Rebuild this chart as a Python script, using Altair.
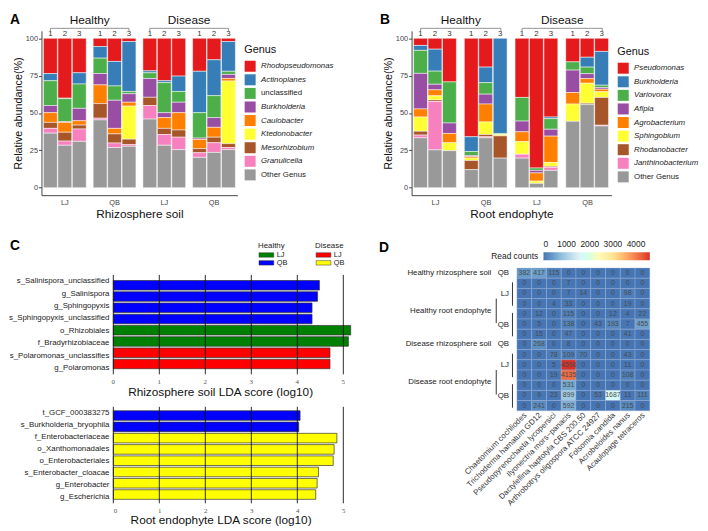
import altair as alt
import pandas as pd

FONT = "Liberation Sans"
SERIF = "Liberation Serif"

GROUPS = ["H-LJ", "H-QB", "D-LJ", "D-QB"]
REPS = ["1", "2", "3"]
SAMPLE_GROUP = [g for g in GROUPS for _ in REPS]
SAMPLE_REP = REPS * 4
STATUS = ["Healthy", "Disease"]
SET1 = ["#E41A1C", "#377EB8", "#4DAF4A", "#984EA3", "#FF7F00", "#FFFF33", "#A65628", "#F781BF", "#999999"]

# ---------------- Panel A : rhizosphere soil genera (% per sample) ----------------
A_GENERA = ["Rhodopseudomonas", "Actinoplanes", "unclassified", "Burkholderia", "Caulobacter",
            "Ktedonobacter", "Mesorhizobium", "Granulicella", "Other Genus"]
A_RHODOPSEUDOMONAS = [23.6, 40.1, 23.1, 5.5, 15.5, 2.2, 21.8, 28.4, 25.3, 22.1, 14.4, 2.2]
A_ACTINOPLANES = [4.8, 0.3, 7.5, 7.8, 16.4, 33.4, 1.3, 1.3, 10.3, 27.7, 24.0, 19.9]
A_UNCLASSIFIED = [16.6, 15.4, 16.3, 10.3, 9.6, 1.5, 3.8, 20.1, 7.2, 17.0, 14.7, 2.1]
A_BURKHOLDERIA = [4.8, 0.5, 8.3, 7.6, 18.8, 5.7, 12.6, 3.3, 7.0, 0.9, 6.5, 2.7]
A_CAULOBACTER = [6.5, 6.6, 2.9, 12.5, 3.7, 2.6, 0.0, 7.2, 11.6, 6.1, 6.6, 1.7]
A_KTEDONOBACTER = [0.0, 0.0, 0.0, 0.0, 0.0, 22.1, 0.0, 0.0, 0.0, 0.0, 0.0, 41.9]
A_MESORHIZOBIUM = [4.0, 5.9, 2.6, 9.8, 6.1, 3.7, 5.5, 4.1, 4.8, 2.8, 3.7, 2.6]
A_GRANULICELLA = [3.2, 2.8, 8.3, 1.1, 3.0, 1.1, 9.1, 7.2, 8.3, 3.1, 6.5, 1.4]
A_OTHER = [36.5, 28.4, 31.0, 45.4, 26.9, 27.7, 45.9, 28.4, 25.5, 20.3, 23.6, 25.5]
A_VALUES = [A_RHODOPSEUDOMONAS, A_ACTINOPLANES, A_UNCLASSIFIED, A_BURKHOLDERIA, A_CAULOBACTER,
            A_KTEDONOBACTER, A_MESORHIZOBIUM, A_GRANULICELLA, A_OTHER]

# ---------------- Panel B : root endophyte genera (% per sample) ----------------
B_GENERA = ["Pseudomonas", "Burkholderia", "Variovorax", "Afipia", "Agrobacterium",
            "Sphingobium", "Rhodanobacter", "Janthinobacterium", "Other Genus"]
B_PSEUDOMONAS = [4.8, 7.3, 29.2, 65.9, 19.3, 0.0, 39.6, 86.8, 52.7, 15.8, 12.7, 8.8]
B_BURKHOLDERIA = [3.3, 14.7, 0.0, 9.9, 10.4, 63.7, 0.0, 0.0, 1.1, 0.0, 6.6, 22.6]
B_VARIOVORAX = [15.4, 8.8, 27.5, 2.7, 7.7, 0.7, 15.8, 1.6, 7.1, 5.5, 4.4, 1.6]
B_AFIPIA = [23.8, 3.7, 7.0, 0.7, 6.6, 0.0, 7.2, 1.7, 4.6, 15.0, 3.3, 1.1]
B_AGROBACTERIUM = [5.4, 4.0, 6.2, 1.0, 12.0, 0.0, 6.6, 5.5, 17.6, 7.7, 3.1, 1.7]
B_SPHINGOBIUM = [9.5, 2.8, 5.3, 1.6, 8.4, 0.9, 8.4, 1.5, 2.6, 11.6, 13.4, 3.8]
B_RHODANOBACTER = [2.6, 1.1, 0.0, 6.1, 1.5, 14.9, 0.0, 0.0, 0.7, 0.0, 0.9, 18.6]
B_JANTHINOBACTERIUM = [1.8, 32.3, 0.0, 0.0, 0.7, 0.0, 2.6, 0.0, 2.0, 0.0, 0.0, 0.5]
B_OTHER = [33.4, 25.3, 24.8, 12.1, 33.4, 19.8, 19.8, 2.9, 11.6, 44.4, 55.6, 41.3]
B_VALUES = [B_PSEUDOMONAS, B_BURKHOLDERIA, B_VARIOVORAX, B_AFIPIA, B_AGROBACTERIUM,
            B_SPHINGOBIUM, B_RHODANOBACTER, B_JANTHINOBACTERIUM, B_OTHER]

# ---------------- Panel C : LEfSe LDA scores ----------------
GRP_KEYS = ["H-LJ", "H-QB", "D-LJ", "D-QB"]
GRP_COLORS = ["#008000", "#0000FF", "#FF0000", "#FFFF00"]
C_TICKS = [0, 1, 2, 3, 4, 5]
C1_TAXA = ["s_Salinispora_unclassified", "g_Salinispora", "g_Sphingopyxis", "s_Sphingopyxis_unclassified",
           "o_Rhizobiales", "f_Bradyrhizobiaceae", "s_Polaromonas_unclassifies", "g_Polaromonas"]
C1_LDA = [4.48, 4.44, 4.32, 4.32, 5.16, 5.11, 4.71, 4.71]
C1_GRP = ["H-QB", "H-QB", "H-QB", "H-QB", "H-LJ", "H-LJ", "D-LJ", "D-LJ"]
C2_TAXA = ["t_GCF_000383275", "s_Burkholderia_bryophila", "f_Enterobacteriaceae", "o_Xanthomonadales",
           "o_Enterobacteriales", "s_Enterobacter_cloacae", "g_Enterobacter", "g_Escherichia"]
C2_LDA = [4.06, 4.03, 4.86, 4.80, 4.78, 4.46, 4.43, 4.40]
C2_GRP = ["H-QB", "H-QB", "D-QB", "D-QB", "D-QB", "D-QB", "D-QB", "D-QB"]
C1_TITLE = "Rhizosphere soil LDA score (log10)"
C2_TITLE = "Root endophyte LDA score (log10)"

# ---------------- Panel D : read counts heatmap ----------------
SPECIES = ["Chaetomium cochliodes", "Trichoderma hamatum GD12", "Pseudopyrenochaeta lycopersici",
           "Ilyonectria mors\u2212panacis", "Dactylellina haptotyla CBS 200.50",
           "Arthrobotrys oligospora ATCC 24927", "Folsomia candida", "Acrobeloides nanus",
           "Acaulopage tetraceros"]
HEAT_ROWS = [
    [382, 417, 115, 0, 0, 0, 0, 0, 0],
    [0, 0, 0, 7, 0, 0, 0, 0, 0],
    [0, 0, 0, 7, 14, 0, 0, 98, 0],
    [0, 0, 4, 33, 0, 0, 0, 19, 0],
    [0, 12, 0, 115, 0, 0, 12, 4, 22],
    [0, 5, 0, 138, 0, 43, 193, 7, 455],
    [0, 15, 0, 47, 0, 0, 0, 41, 0],
    [0, 268, 0, 8, 0, 0, 0, 0, 0],
    [0, 0, 78, 109, 70, 0, 0, 43, 0],
    [0, 0, 5, 4596, 0, 0, 0, 11, 0],
    [0, 0, 19, 4135, 0, 0, 0, 108, 0],
    [0, 0, 0, 531, 0, 0, 0, 0, 0],
    [0, 9, 23, 899, 0, 53, 1687, 11, 111],
    [0, 241, 0, 592, 0, 0, 0, 215, 0],
]
MAIN_LABELS = ["Healthy rhizosphere soil", "Healthy root endophyte", "Disease rhizosphere soil", "Disease root endophyte"]
MAIN_FIRST = [1, 2, 8, 9]
MAIN_LAST = [1, 7, 8, 14]
SUB_LABELS = ["QB", "LJ", "QB", "QB", "LJ", "QB"]
SUB_FIRST = [1, 2, 5, 8, 9, 12]
SUB_LAST = [1, 4, 7, 8, 11, 14]
HEAT_COLORS = ["#4575B4", "#91BFDB", "#E0F3F8", "#FFFFBF", "#FEE090", "#FC8D59", "#D73027"]
LEGEND_TICKS = [0, 1000, 2000, 3000, 4000]


def band_layout(W, n, pi, po):
    step = W / (n - pi + 2 * po)
    start = (W - step * (n - pi)) / 2
    return start, step, step * (1 - pi)


def letter_layer(letter, x, y):
    return alt.Chart(pd.DataFrame({"t": [letter]})).mark_text(
        fontSize=14, fontWeight="bold", align="left", baseline="top", color="#000"
    ).encode(text="t:N", x=alt.value(x), y=alt.value(y))


def stacked_panel(letter, genera, values, xtitle, W, H, legend_x, legend_y):
    rows = []
    n = len(genera)
    for k, (g, vals) in enumerate(zip(genera, values)):
        for s, v in enumerate(vals):
            if v > 0:
                rows.append({"genus": g, "group": SAMPLE_GROUP[s], "rep": SAMPLE_REP[s],
                             "value": v, "ord": n - 1 - k})
    df = pd.DataFrame(rows)
    PI, PO, PI2 = 0.14, 0.04, 0.04
    xscale = alt.Scale(domain=GROUPS, paddingInner=PI, paddingOuter=PO)
    oscale = alt.Scale(domain=REPS, paddingInner=PI2, paddingOuter=0)
    xaxis = alt.Axis(title=xtitle, titleFontSize=12, titleFontWeight="normal", titleColor="#111",
                     titlePadding=3, labelExpr="split(datum.value, '-')[1]", labelAngle=0,
                     labelFontSize=7.5, labelColor="#444", labelPadding=3, ticks=False,
                     domainColor="#444")
    ysc = alt.Scale(domain=[-5, 105], nice=False, zero=False)
    italic = {"expr": "indexof(['unclassified', 'Other Genus'], datum.label) >= 0 ? 'normal' : 'italic'"}
    bars = alt.Chart(df).mark_bar(stroke="white", strokeWidth=0.5).encode(
        x=alt.X("group:N", sort=GROUPS, scale=xscale, axis=xaxis),
        xOffset=alt.XOffset("rep:N", sort=REPS, scale=oscale),
        y=alt.Y("value:Q", stack="zero", scale=ysc,
                axis=alt.Axis(values=[0, 25, 50, 75, 100], title="Relative abundance(%)", titleFontSize=11,
                              titleFontWeight="normal", titleColor="#111", titlePadding=2,
                              labelFontSize=7.5, labelColor="#444", labelPadding=1, tickSize=3,
                              tickColor="#444", domainColor="#444", grid=False)),
        color=alt.Color("genus:N", scale=alt.Scale(domain=genera, range=SET1),
                        legend=alt.Legend(title="Genus", orient="none", legendX=legend_x, legendY=legend_y,
                                          titleFontSize=11, titleFontWeight="normal", titleColor="#111",
                                          titlePadding=5, labelFontSize=8, labelColor="#222",
                                          labelFontStyle=italic, symbolType="square", symbolSize=125,
                                          symbolStrokeWidth=0, symbolOpacity=1, rowPadding=1.8,
                                          labelOffset=5)),
        order=alt.Order("ord:Q", sort="ascending"),
    )
    nums = alt.Chart(pd.DataFrame({"group": SAMPLE_GROUP, "rep": SAMPLE_REP})).mark_text(
        fontSize=8, color="#333", baseline="middle").encode(
        x=alt.X("group:N", sort=GROUPS, scale=xscale, axis=xaxis),
        xOffset=alt.XOffset("rep:N", sort=REPS, scale=oscale),
        y=alt.value(3), text="rep:N")
    start, step, bw = band_layout(W, 4, PI, PO)
    s2, st2, bw2 = band_layout(bw, 3, PI2, 0.0)

    def cx(i, j):
        return float(start + step * i + s2 + st2 * j + bw2 / 2)

    layers = [bars, nums]
    BR_Y, HEAD_Y = -2.5, -10.5
    for k, status in enumerate(STATUS):
        x1, x2 = cx(2 * k, 0), cx(2 * k + 1, 2)
        c = alt.Chart(pd.DataFrame({"status": [status]}))
        layers += [
            c.mark_rule(color="#777", strokeWidth=0.8).encode(x=alt.value(x1), x2=alt.value(x2), y=alt.value(BR_Y)),
            c.mark_rule(color="#777", strokeWidth=0.8).encode(x=alt.value(x1), y=alt.value(BR_Y), y2=alt.value(BR_Y + 3)),
            c.mark_rule(color="#777", strokeWidth=0.8).encode(x=alt.value(x2), y=alt.value(BR_Y), y2=alt.value(BR_Y + 3)),
            c.mark_text(fontSize=12, color="#111", baseline="middle").encode(
                x=alt.value((x1 + x2) / 2), y=alt.value(HEAD_Y), text="status:N"),
        ]
    layers.append(letter_layer(letter, -32, -18))
    return alt.layer(*layers).properties(width=W, height=H)


def lda_panel():
    # one frame (x 40..356, y 267..506) holding both LDA bar charts
    W, H = 316, 239
    xsc = alt.Scale(domain=[0, 5.2], range=[73, 316], nice=False, zero=True)
    xaxis = alt.Axis(values=C_TICKS, grid=False, ticks=False, domain=False, labelFont=SERIF,
                     labelFontSize=7, labelColor="#555", labelPadding=3, title=C2_TITLE,
                     titleFontSize=12, titleFontWeight="normal", titleColor="#111", titlePadding=2,
                     titleX=182, titleAnchor="middle")
    csc = alt.Scale(domain=GRP_KEYS, range=GRP_COLORS)
    layers = []
    sections = [(C1_TAXA, C1_LDA, C1_GRP, [7, 108], 0.5), (C2_TAXA, C2_LDA, C2_GRP, [141, 239], 0.35)]
    for taxa, lda, grp, yr, po in sections:
        df = pd.DataFrame({"taxon": taxa, "lda": lda, "grp": grp})
        ysc = alt.Scale(domain=taxa, range=yr, paddingInner=0.15, paddingOuter=po)
        layers.append(alt.Chart(df).mark_bar(stroke="#333", strokeWidth=0.7).encode(
            x=alt.X("lda:Q", scale=xsc, axis=xaxis),
            y=alt.Y("taxon:N", sort=taxa, scale=ysc, axis=None),
            color=alt.Color("grp:N", scale=csc, legend=None)))
        layers.append(alt.Chart(df).mark_text(fontSize=8, color="#222", align="right", baseline="middle").encode(
            x=alt.value(69), y=alt.Y("taxon:N", sort=taxa, scale=ysc, axis=None), text="taxon:N"))
        layers.append(alt.Chart(pd.DataFrame({"v": C_TICKS})).mark_rule(color="#111", strokeWidth=0.9).encode(
            x=alt.X("v:Q", scale=xsc, axis=xaxis), y=alt.value(yr[0]), y2=alt.value(yr[1])))
    # tick labels and title of the upper chart
    layers.append(alt.Chart(pd.DataFrame({"v": C_TICKS})).mark_text(
        font=SERIF, fontSize=7, color="#555", baseline="middle").encode(
        x=alt.X("v:Q", scale=xsc, axis=xaxis), y=alt.value(116), text="v:Q"))
    layers.append(alt.Chart(pd.DataFrame({"t": [C1_TITLE]})).mark_text(
        fontSize=12, color="#111", baseline="middle").encode(x=alt.value(182), y=alt.value(126), text="t:N"))
    # group legend
    for j, status in enumerate(STATUS):
        px = 221 + 58 * j
        c = alt.Chart(pd.DataFrame({"status": [status]}))
        layers.append(c.mark_text(fontSize=8, color="#222", align="left", baseline="middle").encode(
            x=alt.value(px - 1), y=alt.value(-22), text="status:N"))
        for i, site in enumerate(["LJ", "QB"]):
            key = ("H-" if j == 0 else "D-") + site
            py = -15.5 + 8 * i
            d = alt.Chart(pd.DataFrame({"site": [site]}))
            layers.append(d.mark_rect(stroke="#333", strokeWidth=0.5,
                                      color=GRP_COLORS[GRP_KEYS.index(key)]).encode(
                x=alt.value(px), x2=alt.value(px + 15), y=alt.value(py), y2=alt.value(py + 4.5)))
            layers.append(d.mark_text(fontSize=7.5, color="#222", align="left", baseline="middle").encode(
                x=alt.value(px + 18), y=alt.value(py + 2.3), text="site:N"))
    layers.append(letter_layer("C", -32, -29))
    return alt.layer(*layers).resolve_scale(y="independent").properties(width=W, height=H)


def heat_panel():
    # frame x 416..658, heatmap cells from x 523, y 267
    W, H = 242, 239
    X0 = 107
    recs = []
    for r, vals in enumerate(HEAT_ROWS, start=1):
        for sp, v in zip(SPECIES, vals):
            recs.append({"species": sp, "row": r, "r0": r - 0.5, "r1": r + 0.5, "value": v})
    df = pd.DataFrame(recs)
    vmax = float(max(max(r) for r in HEAT_ROWS))
    stops = [vmax * i / (len(HEAT_COLORS) - 1) for i in range(len(HEAT_COLORS))]
    xsc = alt.Scale(domain=SPECIES, range=[X0, X0 + 15 * len(SPECIES)], paddingInner=0, paddingOuter=0)
    ysc = alt.Scale(domain=[0.5, 14.5], range=[0, 145], nice=False, zero=False)
    rects = alt.Chart(df).mark_rect(stroke="#9fb3d6", strokeWidth=0.4).encode(
        x=alt.X("species:N", sort=SPECIES, scale=xsc, axis=None),
        y=alt.Y("r0:Q", scale=ysc, axis=None), y2="r1:Q",
        color=alt.Color("value:Q", scale=alt.Scale(domain=stops, range=HEAT_COLORS),
                        legend=alt.Legend(orient="none", legendX=X0 - 26, legendY=-16, direction="horizontal",
                                          gradientLength=108, gradientThickness=8, title="Read counts",
                                          titleOrient="left", titleFontSize=8.5, titleFontWeight="normal",
                                          titleColor="#222", titlePadding=5, labelFontSize=8.5,
                                          labelColor="#222", labelOffset={"expr": "-20"}, values=LEGEND_TICKS,
                                          format="d", labelOverlap=False, gradientStrokeWidth=0)),
    )
    texts = alt.Chart(df).mark_text(fontSize=7, color="#4a4a4a", baseline="middle").encode(
        x=alt.X("species:N", sort=SPECIES, scale=xsc, axis=None),
        y=alt.Y("row:Q", scale=ysc, axis=None), text=alt.Text("value:Q", format="d"))
    col_labels = alt.Chart(pd.DataFrame({"species": SPECIES})).mark_text(
        fontSize=8, color="#333", align="right", baseline="middle", angle=315, dx=2).encode(
        x=alt.X("species:N", sort=SPECIES, scale=xsc, axis=None), y=alt.value(150), text="species:N")
    main_df = pd.DataFrame({"label": MAIN_LABELS, "first": MAIN_FIRST, "last": MAIN_LAST})
    main_df["ypos"] = (main_df["first"] + main_df["last"]) / 2 + 0.2
    main_df.loc[main_df["first"] == main_df["last"], "ypos"] = main_df["first"]
    sub_df = pd.DataFrame({"label": SUB_LABELS, "first": SUB_FIRST, "last": SUB_LAST})
    sub_df["ypos"] = (sub_df["first"] + sub_df["last"]) / 2 + 0.05
    sub_df.loc[sub_df["first"] == sub_df["last"], "ypos"] = sub_df["first"]
    main_t = alt.Chart(main_df).mark_text(fontSize=8, color="#222", align="right", baseline="middle").encode(
        x=alt.value(X0 - 26), y=alt.Y("ypos:Q", scale=ysc, axis=None), text="label:N")
    sub_t = alt.Chart(sub_df).mark_text(fontSize=8, color="#222", align="right", baseline="middle").encode(
        x=alt.value(X0 - 8), y=alt.Y("ypos:Q", scale=ysc, axis=None), text="label:N")
    main_b = alt.Chart(main_df).transform_filter("datum.last > datum.first").transform_calculate(
        a="datum.ypos - 1.2", b="datum.ypos + 1.2").mark_rule(color="#333", strokeWidth=1).encode(
        x=alt.value(X0 - 21), y=alt.Y("a:Q", scale=ysc, axis=None), y2="b:Q")
    sub_b = alt.Chart(sub_df).transform_filter("datum.last > datum.first").transform_calculate(
        a="datum.first - 0.1", b="datum.last + 0.2").mark_rule(color="#333", strokeWidth=1).encode(
        x=alt.value(X0 - 4.5), y=alt.Y("a:Q", scale=ysc, axis=None), y2="b:Q")
    return alt.layer(rects, texts, col_labels, main_t, sub_t, main_b, sub_b,
                     letter_layer("D", X0 - 140, -27)).properties(width=W, height=H)


A = stacked_panel("A", A_GENERA, A_VALUES, "Rhizosphere soil", 199, 167, 206, 14)
B = stacked_panel("B", B_GENERA, B_VALUES, "Root endophyte", 203, 167, 209, 16)
C = lda_panel()
D = heat_panel()

chart = alt.concat(A, B, C, D, columns=2, align="each", bounds="flush",
                   spacing={"row": 74, "column": 60}).resolve_scale(
    color="independent").resolve_legend(color="independent").properties(
    padding={"left": 0, "top": 0, "right": 0, "bottom": 0}
).configure(font=FONT).configure_view(stroke="transparent")

chart.save("out.html", embed_options={"renderer": "svg", "actions": False})
